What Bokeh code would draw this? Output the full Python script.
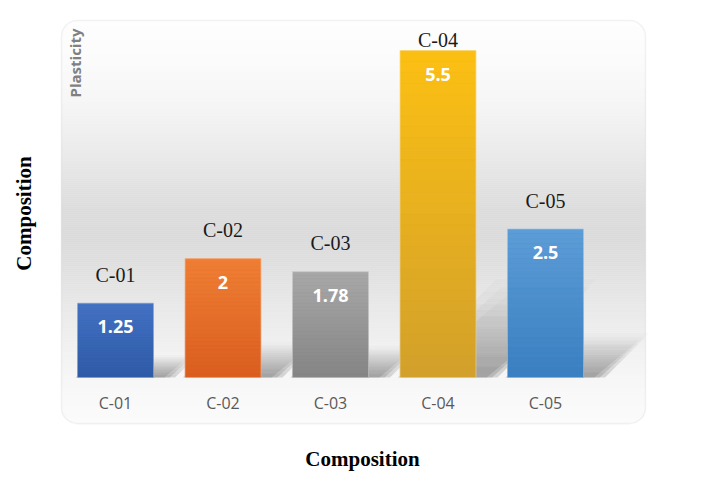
import numpy as np
from bokeh.plotting import figure
from bokeh.models import Range1d, BoxAnnotation
from bokeh.core.properties import value
from bokeh.embed import file_html
from bokeh.resources import INLINE

# ---------------- data ----------------
categories = ["C-01", "C-02", "C-03", "C-04", "C-05"]
plasticity = [1.25, 2, 1.78, 5.5, 2.5]
value_labels = ["1.25", "2", "1.78", "5.5", "2.5"]
top_colors = ["#4472c4", "#ef7f34", "#a8a8a8", "#fcc013", "#5d9dd7"]
bottom_colors = ["#2f5ba6", "#da5e1f", "#858585", "#d2a02b", "#3a7fc1"]
panel_title = "Plasticity"
x_title = "Composition"
y_title = "Composition"

# ---------------- layout constants ----------------
W, H = 701, 477
PX_X, PX_Y = 107.5, 59.45      # pixels per category / per unit
X0, Y0 = 115, 377              # px of first category centre and of zero line
BAR_W = 76 / PX_X
FUDGE = 0.36                   # baseline correction, fraction of font size


def dx(ref_x):
    return (ref_x - X0) / PX_X


def dy(ref_y):
    return (Y0 - ref_y) / PX_Y


def hexc(r, g, b):
    return "#%02x%02x%02x" % (int(round(r)), int(round(g)), int(round(b)))


def h2rgb(h):
    h = h.lstrip("#")
    return [int(h[i:i + 2], 16) for i in (0, 2, 4)]


p = figure(width=W, height=H,
           x_range=Range1d(dx(0), dx(W)),
           y_range=Range1d(dy(H), dy(0)),
           output_backend="svg", toolbar_location=None,
           x_axis_location=None, y_axis_location=None,
           min_border=0, outline_line_color=None,
           background_fill_color="white", border_fill_color="white")
p.grid.visible = False

# ---------------- panel background gradient ----------------
PL, PR, PT, PB, RAD = 61, 645, 20, 423, 16
stops_y = [20, 60, 100, 140, 180, 210, 240, 270, 300, 330, 355, 377, 400, 423]
stops_g = [254, 251, 246, 237, 227, 220, 219, 224, 231, 237, 242, 246, 249, 251]
lefts, rights, tops, bottoms, cols = [], [], [], [], []
step = 2
for r in range(PT, PB, step):
    mid = r + step / 2
    d = min(mid - PT, PB - mid)
    inset = 0.0
    if d < RAD:
        inset = RAD - np.sqrt(max(RAD ** 2 - (RAD - d) ** 2, 0))
    g = np.interp(mid, stops_y, stops_g)
    lefts.append(dx(PL + inset))
    rights.append(dx(PR - inset))
    tops.append(dy(r))
    bottoms.append(dy(r + step))
    cols.append(hexc(g, g, g))
p.quad(left=lefts, right=rights, top=tops, bottom=bottoms,
       fill_color=cols, line_color=cols, line_width=0.5)

# ---------------- bar shadows (soft, layered) ----------------
idx = list(range(len(categories)))
S = 8
sx, sy, sa = [], [], []
for i, v in zip(idx, plasticity):
    h = 0.25 * v
    skew = (h * PX_Y) * 1.2 / PX_X
    for grow in (0.0, 0.05, 0.10):
        left0 = i - BAR_W / 2 + 0.08 - grow
        right0 = i + BAR_W / 2 + 0.10 + grow
        hh = h * (1 + grow * 2)
        for k in range(S):
            ya, yb = hh * k / S, hh * (k + 1) / S
            sa_ = skew * k / S
            sb_ = skew * (k + 1) / S
            sx.append([left0 + sa_, right0 + sa_, right0 + sb_, left0 + sb_])
            sy.append([ya, ya, yb, yb])
            sa.append(0.24 * (1 - k / S) ** 1.1)
p.patches(xs=sx, ys=sy, fill_color="#666666", fill_alpha=sa, line_color=None)

# ---------------- bars ----------------
p.vbar(x=idx, top=plasticity, width=BAR_W, bottom=0,
       fill_color=bottom_colors, line_color=None)
N = 30
gl, gr, gt, gb, gc = [], [], [], [], []
for i, v in enumerate(plasticity):
    c1, c2 = h2rgb(top_colors[i]), h2rgb(bottom_colors[i])
    for k in range(N):
        f = (k + 0.5) / N
        c = [c1[j] * (1 - f) + c2[j] * f for j in range(3)]
        gl.append(i - BAR_W / 2)
        gr.append(i + BAR_W / 2)
        gt.append(v * (1 - k / N))
        gb.append(v * (1 - (k + 1) / N))
        gc.append(hexc(*c))
p.quad(left=gl, right=gr, top=gt, bottom=gb, fill_color=gc, line_color=gc, line_width=0.5)
p.vbar(x=idx, top=plasticity, width=BAR_W, bottom=0,
       fill_color=None, line_color="white", line_alpha=0.35, line_width=1)

# ---------------- texts ----------------
clamp = dy(47)
label_y = [min(v + 21 / PX_Y, clamp) + FUDGE * 20 / PX_Y for v in plasticity]
p.text(x=idx, y=label_y, text=categories,
       text_font=value("Liberation Serif"), text_font_size="20px",
       text_color="#1a1a1a", text_align="center", text_baseline="alphabetic")

p.text(x=idx, y=[v - 30 / PX_Y + FUDGE * 18 / PX_Y for v in plasticity], text=value_labels,
       text_font=value("Open Sans"), text_font_style="bold", text_font_size="18px",
       text_color="white", text_align="center", text_baseline="alphabetic")

p.text(x=idx, y=[dy(408 - FUDGE * 16)] * len(idx), text=categories,
       text_font=value("Open Sans"), text_font_size="16px",
       text_color="#595959", text_align="center", text_baseline="alphabetic")

p.text(x=[dx(80 - FUDGE * 15)], y=[dy(62.5)], text=[panel_title], angle=np.pi / 2,
       text_font=value("Open Sans"), text_font_style="bold", text_font_size="15px",
       text_color="#808080", text_align="center", text_baseline="alphabetic")

p.text(x=[dx(31 - FUDGE * 21)], y=[dy(213)], text=[y_title], angle=np.pi / 2,
       text_font=value("Liberation Serif"), text_font_style="bold", text_font_size="21px",
       text_color="black", text_align="center", text_baseline="alphabetic")

p.text(x=[dx(362)], y=[dy(466 - FUDGE * 21)], text=[x_title],
       text_font=value("Liberation Serif"), text_font_style="bold", text_font_size="21px",
       text_color="black", text_align="center", text_baseline="alphabetic")

# ---------------- panel border ----------------
p.add_layout(BoxAnnotation(left=dx(PL), right=dx(PR), top=dy(PT), bottom=dy(PB),
                           fill_alpha=0, fill_color=None, line_color="#d6d6d6",
                           line_width=1.5, border_radius=RAD))

open("out.html", "w").write(file_html(p, INLINE))
